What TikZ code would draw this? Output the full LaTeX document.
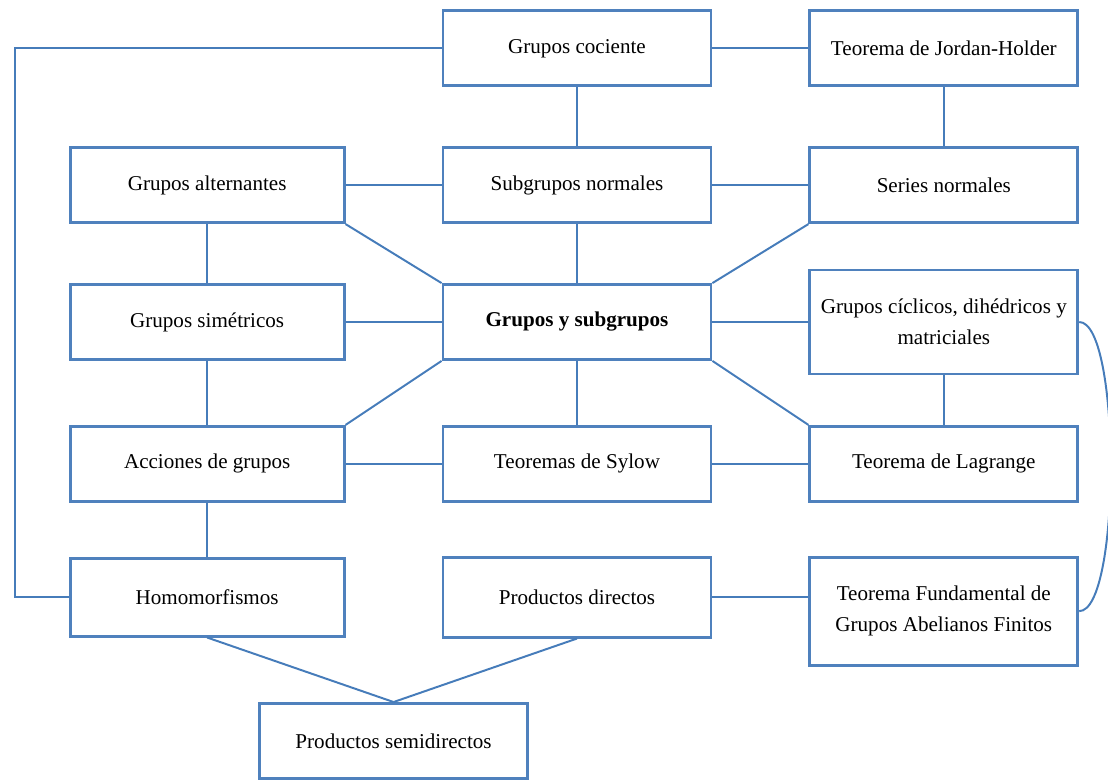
\documentclass[tikz,border=0pt]{standalone}
\usepackage{fontspec}
\setmainfont{Liberation Serif}
\usepackage{xcolor}
\usepackage{tikz}
\usetikzlibrary{positioning,calc}

\definecolor{boxblue}{RGB}{79,129,189}
\definecolor{lineblue}{RGB}{70,124,186}

\begin{document}
\begin{tikzpicture}[
  node distance=2.4cm,
  boxnode/.style={rectangle, draw=boxblue, fill=white, line width=2pt, minimum width=6.7cm, minimum height=1.875cm, align=center, font=\fontsize{15}{22}\selectfont},
  widebox/.style={boxnode, minimum width=6.85cm},
  every edge/.style={  % plain connectors, no tips
            draw=lineblue,
            line width=1.4pt}
]
  \useasboundingbox (-14.425,8.05) rectangle (13.275,-11.45);

  \node[boxnode] (GYS) at (0,0) {\textbf{Grupos y subgrupos}};
  \node[boxnode] (SN)  [above=1.475cm of GYS] {Subgrupos normales};
  \node[boxnode] (GC)  [above=1.475cm of SN]   {Grupos cociente};
  \node[boxnode] (TS)  [below=1.6cm of GYS]  {Teoremas de Sylow};
  \node[boxnode, minimum height=2cm] (PD) [below=1.325cm of TS] {Productos directos};

  \node[widebox] (GA)  [left=of SN]  {Grupos alternantes};
  \node[widebox] (GS)  [left=of GYS] {Grupos simétricos};
  \node[widebox] (AG)  [left=of TS]  {Acciones de grupos};
  \node[widebox, minimum height=1.95cm] (HOM) [left=of PD] {Homomorfismos};

  \node[boxnode] (JH)  [right=of GC]  {Teorema de Jordan-Holder};
  \node[boxnode] (SR)  [right=of SN]  {Series normales};
  \node[boxnode, minimum height=2.6cm] (GCD) [right=of GYS] {Grupos cíclicos, dihédricos y\\matriciales};
  \node[boxnode] (TL)  [right=of TS]  {Teorema de Lagrange};
  \node[boxnode, minimum height=2.7cm] (TF) [right=of PD, yshift=-0.35cm] {Teorema Fundamental de\\Grupos Abelianos Finitos};

  \coordinate (mid) at ($(HOM.south east)!0.5!(PD.south west)$);
  \node[boxnode] (PS)  [below=1.6cm of mid] {Productos semidirectos};

  % top rows
  \draw (GC) edge (JH);
  \draw (GC) edge (SN);
  \draw (JH) edge (SR);
  \draw (GA) edge (SN);
  \draw (SN) edge (SR);

  % around the centre
  \draw (GA.south east) edge (GYS.north west);
  \draw (SN) edge (GYS);
  \draw (SR.south west) edge (GYS.north east);
  \draw (GA) edge (GS);
  \draw (GS) edge (GYS);
  \draw (GYS) edge (GCD);
  \draw (GS) edge (AG);
  \draw (GYS.south west) edge (AG.north east);
  \draw (GYS) edge (TS);
  \draw (GYS.south east) edge (TL.north west);
  \draw (GCD) edge (TL);

  % lower rows
  \draw (AG) edge (TS);
  \draw (TS) edge (TL);
  \draw (AG) edge (HOM);
  \draw (PD.east) edge (PD.east -| TF.west);
  \draw (HOM.south) edge (PS.north);
  \draw (PD.south) edge (PS.north);

  % long ones
  \draw[draw=lineblue, line width=1.4pt] (GC.west) -| ([xshift=-1.35cm]HOM.west) -- (HOM.west);
  \draw[draw=lineblue, line width=1.4pt] (GCD.east) .. controls +(1.05cm,0) and +(1.05cm,0) .. (TF.east);
\end{tikzpicture}
\end{document}
